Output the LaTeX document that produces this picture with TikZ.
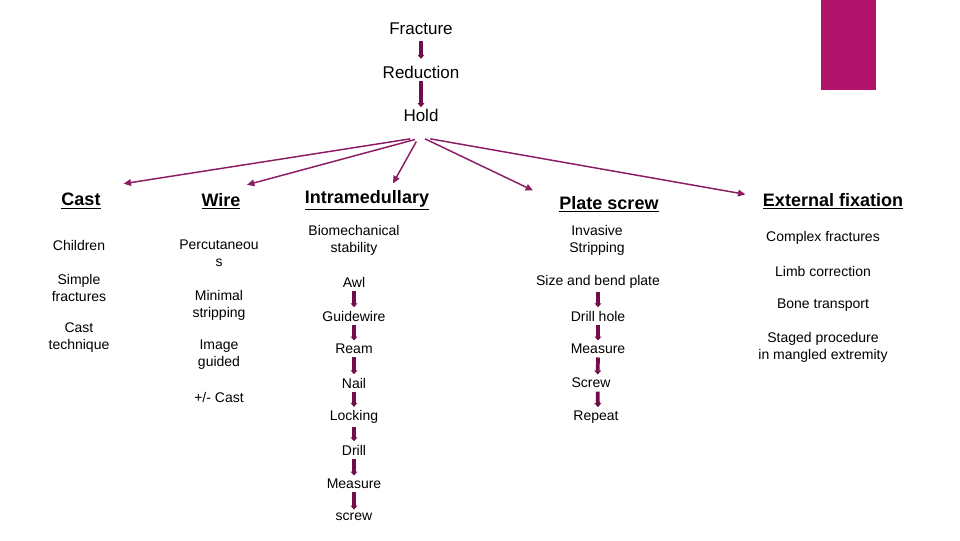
\documentclass[tikz,border=0pt]{standalone}
\usepackage{fontspec}
\setmainfont{Liberation Sans}
\usetikzlibrary{positioning,arrows.meta}
\definecolor{plum}{RGB}{112,14,72}
\definecolor{branchcol}{RGB}{140,28,98}
\definecolor{pinkbar}{RGB}{176,19,106}

\begin{document}
\begin{tikzpicture}[x=0.75pt,y=-0.75pt,
  toplabel/.style={inner sep=1pt, font=\fontsize{12.75}{15}\selectfont},
  heading/.style={inner sep=1pt, font=\fontsize{13.5}{16}\selectfont\bfseries},
  item/.style={inner sep=1pt, align=center, font=\fontsize{10.5}{12.75}\selectfont},
  stepline/.style={plum, line width=2.8pt, shorten <=1.5pt, shorten >=1.5pt, -{Triangle[width=5pt,length=3pt]}},
  branch/.style={branchcol, line width=1.1pt, -{Triangle[width=5pt,length=5.5pt]}}]
%
\useasboundingbox (0,0) rectangle (960,540);

%help grid
%\draw[help lines] (0,0) grid[step=50] (960,540);

%%% corner bar
\fill[pinkbar] (821,0) rectangle (876,90);

%%% TOP CHAIN
\node [toplabel] (fracture) at (421,29) {Fracture};
\node [toplabel] (reduction) at (421,72) {Reduction};
\node [toplabel] (hold) at (421,115) {Hold};

%%% HEADINGS
\node [heading] (cast) at (81,201) {\underline{Cast}};
\node [heading] (wire) at (221,201) {\underline{Wire}};
\node [heading] (intramed) at (367,200) {\underline{Intramedullary}};
\node [heading] (plate) at (609,204) {\underline{Plate screw}};
\node [heading] (extfix) at (833,201) {\underline{External fixation}};

%%% CAST
\node [item] (children) at (79,245) {Children};
\node [item] (simple) at (79,288) {Simple\\fractures};
\node [item] (castech) at (79,338) {Cast\\technique};

%%% WIRE
\node [item] (percut) at (219,253) {Percutaneou\\s};
\node [item] (minimal) at (219,305) {Minimal\\stripping};
\node [item] (image) at (219,355) {Image\\guided};
\node [item] (pmcast) at (219,397) {+/- Cast};

%%% INTRAMEDULLARY
\node [item] (biomech) at (354,240) {Biomechanical\\stability};
\node [item] (awl) at (354,282) {Awl};
\node [item] (guidewire) at (354,316) {Guidewire};
\node [item] (ream) at (354,349) {Ream};
\node [item] (nail) at (354,383) {Nail};
\node [item] (locking) at (354,417) {Locking};
\node [item] (drill) at (354,450) {Drill};
\node [item] (im-measure) at (354,484) {Measure};
\node [item] (im-screw) at (354,517) {screw};

%%% PLATE SCREW
\node [item] (invasive) at (597,240) {Invasive\\Stripping};
\node [item] (sizebend) at (598,282) {Size and bend plate};
\node [item] (drillhole) at (598,316) {Drill hole};
\node [item] (pl-measure) at (598,349) {Measure};
\node [item] (pl-screw) at (591,383) {Screw};
\node [item] (repeat) at (596,417) {Repeat};

%%% EXTERNAL FIXATION
\node [item] (complex) at (823,238) {Complex fractures};
\node [item] (limb) at (823,271) {Limb correction};
\node [item] (bone) at (823,305) {Bone transport};
\node [item] (staged) at (823,347) {Staged procedure\\in mangled extremity};

%%% connections, arrows
\draw [stepline, shorten <=3pt, shorten >=4pt] (fracture.south) -- (reduction.north);
\draw [stepline, shorten <=1pt, shorten >=0pt] (reduction.south) -- (hold.north);

\draw [branch] ([xshift=-8pt,yshift=-12pt]hold.south) -- ([xshift=32pt,yshift=6pt]cast.north);
\draw [branch] ([xshift=-4.5pt,yshift=-12.5pt]hold.south) -- ([xshift=19.5pt,yshift=5pt]wire.north);
\draw [branch] ([xshift=-3.5pt,yshift=-14pt]hold.south) -- ([xshift=19.5pt,yshift=4pt]intramed.north);
\draw [branch] ([xshift=3pt,yshift=-12pt]hold.south) -- ([xshift=-57pt,yshift=3pt]plate.north);
\draw [branch] ([xshift=7pt,yshift=-12pt]hold.south) -- ([xshift=-12pt,yshift=5pt]extfix.west);

\draw [stepline] (awl.south) -- (guidewire.north);
\draw [stepline] (guidewire.south) -- (ream.north);
\draw [stepline] (ream.south) -- (nail.north);
\draw [stepline] (nail.south) -- (locking.north);
\draw [stepline] (locking.south) -- (drill.north);
\draw [stepline] (drill.south) -- (im-measure.north);
\draw [stepline] (im-measure.south) -- (im-screw.north);

\draw [stepline] (sizebend.south) -- (drillhole.north);
\draw [stepline] (drillhole.south) -- (pl-measure.north);
\draw [stepline] (pl-measure.south) -- ([xshift=5pt]pl-screw.north);
\draw [stepline] ([xshift=5pt]pl-screw.south) -- ([xshift=1.5pt]repeat.north);

\end{tikzpicture}
\end{document}
